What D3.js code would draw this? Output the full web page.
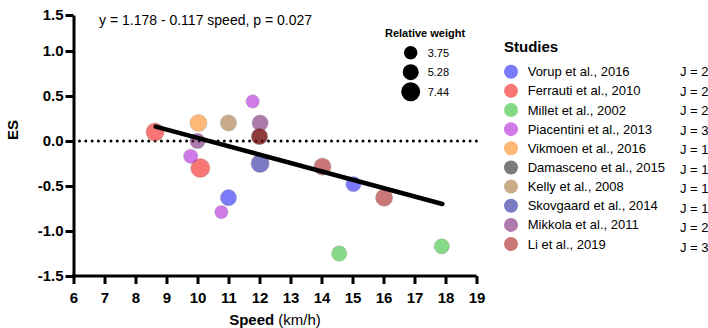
<!DOCTYPE html>
<html>
<head>
<meta charset="utf-8">
<script src="https://cdn.jsdelivr.net/npm/d3@7"></script>
<style>
  body { margin: 0; background: #fff; }
  text { font-family: "Liberation Sans", Arial, sans-serif; }
</style>
</head>
<body>
<div id="chart"></div>
<script>
// studies (legend order) and their colours
var studies = ['Vorup et al., 2016', 'Ferrauti et al., 2010', 'Millet et al., 2002', 'Piacentini et al., 2013',
    'Vikmoen et al., 2016', 'Damasceno et al., 2015', 'Kelly et al., 2008', 'Skovgaard et al., 2014',
    'Mikkola et al., 2011', 'Li et al., 2019'];
var studyJ = [2, 2, 2, 3, 1, 1, 1, 1, 2, 3];
var colors = ['#0f0ff6', '#f00404', '#23ba23', '#aa0dd5', '#fb7e0a', '#0f0f0f', '#9d662a', '#0f0f94', '#6c0d68', '#9d0808'];

// effect sizes, one entry per point
var pointStudy = [0, 0, 1, 1, 2, 2, 3, 3, 3, 4, 5, 6, 7, 8, 8, 9, 9, 9];
var speed = [11.0, 15.03, 8.63, 10.09, 14.57, 17.88, 9.78, 10.77, 11.78, 10.03, 12.0, 11.0, 12.02, 10.0, 12.02, 12.0, 14.03, 16.02];
var es = [-0.63, -0.48, 0.10, -0.30, -1.25, -1.17, -0.17, -0.79, 0.44, 0.20, 0.05, 0.20, -0.25, 0.0, 0.20, 0.05, -0.285, -0.63];
var weight = [5.4, 4.8, 6.8, 7.6, 4.8, 4.8, 4.2, 3.7, 3.7, 6.1, 5.4, 5.4, 6.8, 4.8, 5.4, 5.4, 6.1, 6.1];

// meta-regression line as drawn
var fitSpeed = [8.65, 17.9];
var fitES = [0.16, -0.70];

var xTicks = [6, 7, 8, 9, 10, 11, 12, 13, 14, 15, 16, 17, 18, 19];
var yTicks = [-1.5, -1.0, -0.5, 0.0, 0.5, 1.0, 1.5];
var sizeLegend = [3.75, 5.28, 7.44];

var width = 708, height = 328;
var svg = d3.select('#chart').append('svg')
    .attr('width', width)
    .attr('height', height);

var xScale = d3.scaleLinear().domain([6, 19]).range([73.5, 476.5]);
// the printed axis is squeezed above 1.0
var yScale = d3.scaleLinear().domain([-1.5, 1.0, 1.5]).range([276, 51, 15]);
var rScale = d3.scaleSqrt().domain([0, 7.44]).range([0, 9.5]);

// zero line
svg.append('line')
    .attr('x1', xScale(6) + 6)
    .attr('x2', xScale(19))
    .attr('y1', yScale(0))
    .attr('y2', yScale(0))
    .attr('stroke', '#000')
    .attr('stroke-width', 3)
    .attr('stroke-linecap', 'round')
    .attr('stroke-dasharray', '0,6.3');

// points
var order = d3.range(speed.length).sort((a, b) => pointStudy[a] - pointStudy[b]);
svg.append('g').selectAll('circle')
    .data(order)
    .join('circle')
    .attr('cx', i => xScale(speed[i]))
    .attr('cy', i => yScale(es[i]))
    .attr('r', i => rScale(weight[i]))
    .attr('fill', i => colors[pointStudy[i]])
    .attr('fill-opacity', 0.55)
    .attr('stroke', '#999')
    .attr('stroke-opacity', 0.5)
    .attr('stroke-width', 0.7);

// regression line
svg.append('path')
    .attr('d', d3.line().x((d, i) => xScale(fitSpeed[i])).y(d => yScale(d))(fitES))
    .attr('stroke', '#000')
    .attr('stroke-width', 4.5)
    .attr('stroke-linecap', 'round')
    .attr('fill', 'none');

// axes
var gx = svg.append('g')
    .attr('transform', 'translate(0,' + yScale(-1.5) + ')')
    .call(d3.axisBottom(xScale).tickValues(xTicks).tickFormat(d3.format('d')).tickSize(8).tickSizeOuter(0).tickPadding(8));
var gy = svg.append('g')
    .attr('transform', 'translate(' + xScale(6) + ',0)')
    .call(d3.axisLeft(yScale).tickValues(yTicks).tickFormat(d => d.toFixed(1)).tickSize(8).tickSizeOuter(0).tickPadding(2));
[gx, gy].forEach(function (g) {
    g.select('.domain').attr('stroke-width', 3);
    g.selectAll('.tick line').attr('stroke-width', 3);
    g.selectAll('text')
        .attr('fill', '#000')
        .style('font-family', '"Liberation Sans", Arial, sans-serif')
        .style('font-weight', 'bold')
        .style('font-size', '15px');
});
// extend domains so the corner is closed
gx.select('.domain').attr('d', 'M' + (xScale(6) - 1.5) + ',0H' + xScale(19));

// axis titles
svg.append('text')
    .attr('transform', 'translate(17.5,130) rotate(-90)')
    .attr('text-anchor', 'middle')
    .style('font-size', '15px')
    .style('font-weight', 'bold')
    .text('ES');
var xt = svg.append('text')
    .attr('x', (xScale(6) + xScale(19)) / 2)
    .attr('y', 325)
    .attr('text-anchor', 'middle')
    .style('font-size', '15px');
xt.append('tspan').style('font-weight', 'bold').text('Speed');
xt.append('tspan').text(' (km/h)');

// equation
svg.append('text')
    .attr('x', 99)
    .attr('y', 25)
    .style('font-size', '14px')
    .text('y = 1.178 - 0.117 speed, p = 0.027');

// size legend
svg.append('text')
    .attr('x', 385)
    .attr('y', 37)
    .style('font-size', '11px')
    .style('font-weight', 'bold')
    .text('Relative weight');
var sl = svg.append('g').selectAll('g')
    .data(sizeLegend)
    .join('g')
    .attr('transform', (d, i) => 'translate(410.7,' + (52.7 + i * 19.5) + ')');
sl.append('circle').attr('r', d => rScale(d)).attr('fill', '#000');
sl.append('text')
    .attr('x', 17)
    .attr('y', 4)
    .style('font-size', '11px')
    .text(d => d);

// studies legend
svg.append('text')
    .attr('x', 504)
    .attr('y', 52)
    .style('font-size', '15px')
    .style('font-weight', 'bold')
    .text('Studies');
var lg = svg.append('g').selectAll('g')
    .data(studies)
    .join('g')
    .attr('transform', (d, i) => 'translate(511,' + (71.7 + i * 19.15) + ')');
lg.append('circle')
    .attr('r', 7)
    .attr('fill', (d, i) => colors[i])
    .attr('fill-opacity', 0.55);
lg.append('text')
    .attr('x', 16.7)
    .attr('y', 4.5)
    .style('font-size', '13px')
    .text(d => d);
lg.append('text')
    .attr('x', 169)
    .attr('y', (d, i) => 4.5 + i * 0.35)
    .style('font-size', '13px')
    .text((d, i) => 'J = ' + studyJ[i]);
</script>
</body>
</html>
